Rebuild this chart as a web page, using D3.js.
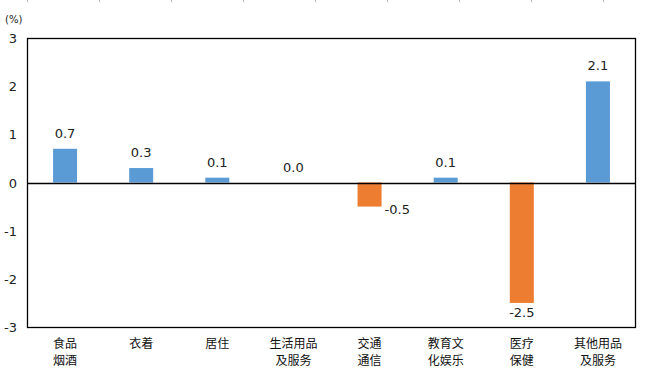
<!DOCTYPE html>
<html lang="zh">
<head>
<meta charset="UTF-8">
<title>chart</title>
<style>
  body { margin: 0; background: #fff; }
  svg { display: block; }
</style>
</head>
<body>
<script src="https://d3js.org/d3.v7.min.js"></script>
<script>
  const categories = [
    ['食品', '烟酒'], ['衣着'], ['居住'], ['生活用品', '及服务'],
    ['交通', '通信'], ['教育文', '化娱乐'], ['医疗', '保健'], ['其他用品', '及服务']
  ]
  const values = [0.7, 0.3, 0.1, 0.0, -0.5, 0.1, -2.5, 2.1]
  const yTicks = [-3, -2, -1, 0, 1, 2, 3]

  const width = 646
  const height = 371
  const margin = { left: 27, right: 10, top: 38, bottom: 44 }
  const font = '"DejaVu Sans", sans-serif'
  const cjk = '"Noto Sans CJK SC", sans-serif'

  const svg = d3.select('body').append('svg')
    .attr('width', width)
    .attr('height', height)

  // faint marks along the top edge
  for (let i = 0; i < 9; i++) {
    svg.append('line')
      .attr('x1', 27.5 + i * 72).attr('x2', 27.5 + i * 72)
      .attr('y1', 0).attr('y2', 2)
      .attr('stroke', '#b8b8b8')
  }

  const x = d3.scaleBand()
    .domain(d3.range(categories.length))
    .range([margin.left, width - margin.right])

  const y = d3.scaleLinear()
    .domain([-3, 3])
    .range([height - margin.bottom, margin.top])

  const bw = 24

  svg.append('g')
    .selectAll('rect')
    .data(values)
    .join('rect')
    .attr('x', (d, i) => x(i) + x.bandwidth() / 2 - bw / 2)
    .attr('y', d => y(Math.max(0, d)))
    .attr('width', bw)
    .attr('height', d => Math.abs(y(d) - y(0)))
    .attr('fill', d => d < 0 ? '#ed7d31' : '#5b9bd5')

  // frame
  svg.append('rect')
    .attr('x', margin.left + 0.5)
    .attr('y', margin.top + 0.5)
    .attr('width', width - margin.left - margin.right - 1)
    .attr('height', height - margin.top - margin.bottom)
    .attr('fill', 'none')
    .attr('stroke', '#000')
    .attr('stroke-width', 1.3)

  // zero line
  svg.append('line')
    .attr('x1', margin.left).attr('x2', width - margin.right)
    .attr('y1', Math.round(y(0)) + 0.5).attr('y2', Math.round(y(0)) + 0.5)
    .attr('stroke', '#000')
    .attr('stroke-width', 1.3)

  // y axis labels
  svg.append('g')
    .selectAll('text')
    .data(yTicks)
    .join('text')
    .attr('x', 17)
    .attr('y', d => y(d) + 5)
    .attr('text-anchor', 'end')
    .attr('font-family', font)
    .attr('font-size', 13)
    .attr('fill', '#222')
    .text(d => d)

  svg.append('text')
    .attr('x', 5)
    .attr('y', 23)
    .attr('font-family', font)
    .attr('font-size', 10)
    .attr('fill', '#222')
    .text('(%)')

  // value labels
  svg.append('g')
    .selectAll('text')
    .data(values)
    .join('text')
    .attr('x', (d, i) => {
      const c = x(i) + x.bandwidth() / 2
      if (d < 0 && d > -1) return c + bw / 2 + 3
      return c
    })
    .attr('y', d => {
      if (d >= 0) return y(d) - 11
      if (d > -1) return y(d) + 7
      return y(d) + 14
    })
    .attr('text-anchor', d => (d < 0 && d > -1) ? 'start' : 'middle')
    .attr('font-family', font)
    .attr('font-size', 13)
    .attr('fill', '#222')
    .text(d => d.toFixed(1))

  // category labels
  const cat = svg.append('g')
    .selectAll('text')
    .data(categories)
    .join('text')
    .attr('x', (d, i) => x(i) + x.bandwidth() / 2)
    .attr('y', 348)
    .attr('text-anchor', 'middle')
    .attr('font-family', cjk)
    .attr('font-size', 12)
    .attr('fill', '#111')

  cat.selectAll('tspan')
    .data(d => d)
    .join('tspan')
    .attr('x', function () { return d3.select(this.parentNode).attr('x') })
    .attr('dy', (d, i) => i === 0 ? 0 : 17)
    .text(d => d)
</script>
</body>
</html>
